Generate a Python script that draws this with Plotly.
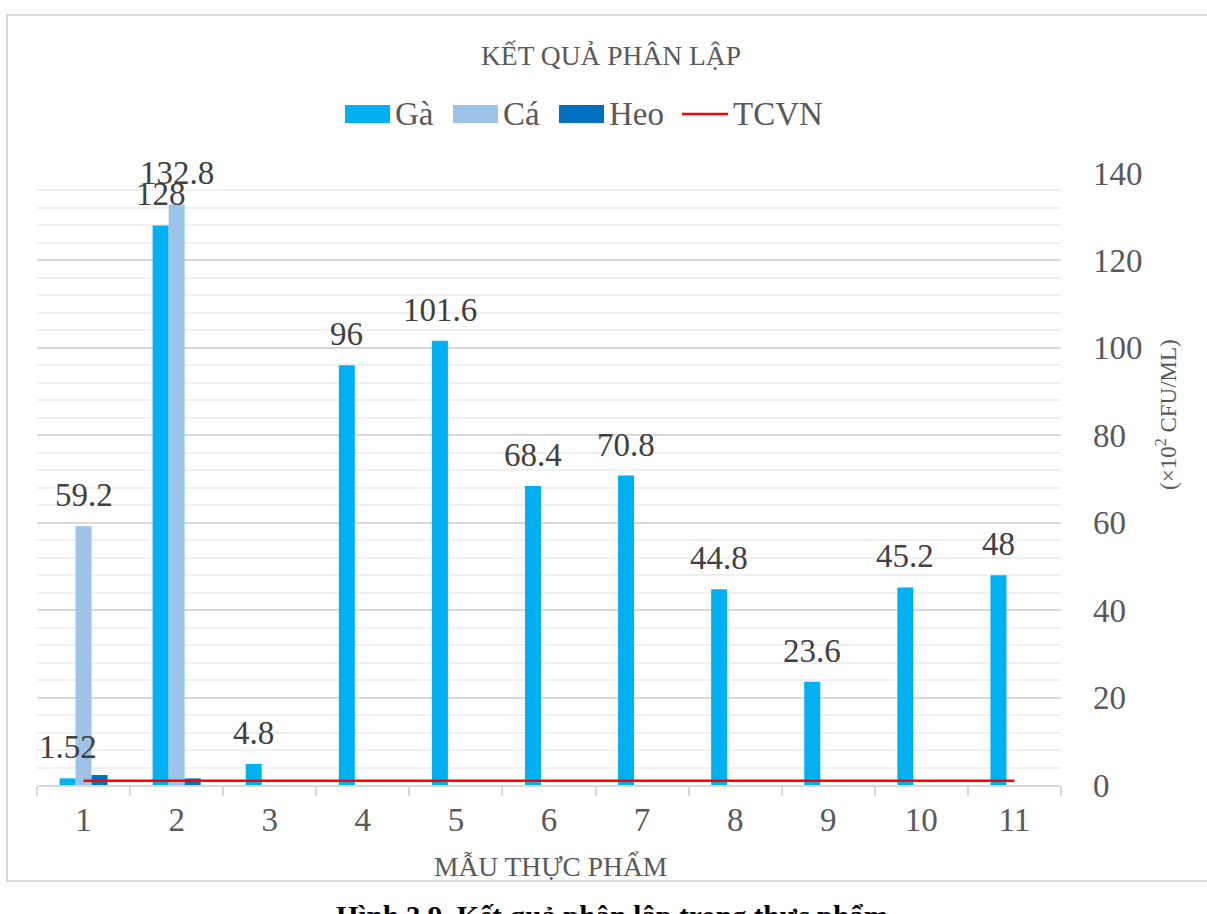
import plotly.graph_objects as go

# Sample numbers (Mẫu thực phẩm 1..11)
categories = ["1", "2", "3", "4", "5", "6", "7", "8", "9", "10", "11"]

# Counts in ×10² CFU/ml; None = not sampled
ga = [1.52, 128, 4.8, 96, 101.6, 68.4, 70.8, 44.8, 23.6, 45.2, 48]
ca = [59.2, 132.8, None, None, None, None, None, None, None, None, None]
heo = [2.3, 1.5, None, None, None, None, None, None, None, None, None]
tcvn = [1.0] * len(categories)

y_ticks = [0, 20, 40, 60, 80, 100, 120, 140]

# Figure geometry
W, H = 1207, 914
ML, MR, MT, MB = 37, 146, 173, 129
PW, PH = W - ML - MR, H - MT - MB
BARGAP = 0.484

C_GA, C_CA, C_HEO, C_TCVN = "#00B0F0", "#9DC3E6", "#0070C0", "#FF0000"
FONT = "Liberation Serif, Times New Roman, serif"
GREY = "#595959"


def px(x):
    return (x - ML) / PW


def py(y):
    return (H - MB - y) / PH


fig = go.Figure()
for name, vals, col in [("Gà", ga, C_GA), ("Cá", ca, C_CA), ("Heo", heo, C_HEO)]:
    fig.add_trace(go.Bar(x=categories, y=vals, name=name, marker_color=col,
                         marker_line_width=0, showlegend=False))
fig.add_trace(go.Scatter(x=categories, y=tcvn, name="TCVN", mode="lines",
                         line=dict(color=C_TCVN, width=2.5), showlegend=False))

# Value labels above Gà and Cá bars (x given as category index)
cat_w = PW / len(categories)
bar_w = (1 - BARGAP) * cat_w / 3
annotations = []
for vals, shift in [(ga, -bar_w), (ca, 0.0)]:
    for i, v in enumerate(vals):
        if v is None:
            continue
        annotations.append(dict(x=i, y=v, xref="x", yref="y", text=f"{v:g}",
                                showarrow=False, xanchor="center", yanchor="bottom",
                                xshift=shift, yshift=11,
                                font=dict(family=FONT, size=33, color="#404040")))

# Title, axis titles, caption
annotations.append(dict(x=px(611), y=py(55), xref="paper", yref="paper",
                        text="KẾT QUẢ PHÂN LẬP", showarrow=False,
                        xanchor="center", yanchor="middle",
                        font=dict(family=FONT, size=27.5, color=GREY)))
annotations.append(dict(x=px(550), y=py(866), xref="paper", yref="paper",
                        text="MẪU THỰC PHẨM", showarrow=False,
                        xanchor="center", yanchor="middle",
                        font=dict(family=FONT, size=27.5, color=GREY)))
annotations.append(dict(x=px(1166), y=py(415), xref="paper", yref="paper",
                        text="(×10<sup>2</sup> CFU/ML)", showarrow=False, textangle=-90,
                        xanchor="center", yanchor="middle",
                        font=dict(family=FONT, size=23, color=GREY)))
annotations.append(dict(x=px(612), y=py(898), xref="paper", yref="paper",
                        text="<b>Hình 3.9. Kết quả phân lập trong thực phẩm</b>",
                        showarrow=False, xanchor="center", yanchor="top",
                        font=dict(family=FONT, size=29, color="#000000")))

# Legend row
shapes = []
legend_y = 114
for name, col, x0 in [("Gà", C_GA, 345), ("Cá", C_CA, 453), ("Heo", C_HEO, 559)]:
    shapes.append(dict(type="rect", xref="paper", yref="paper",
                       x0=px(x0), x1=px(x0 + 45), y0=py(legend_y + 9), y1=py(legend_y - 9),
                       fillcolor=col, line_width=0))
    annotations.append(dict(x=px(x0 + 48), y=py(legend_y), xref="paper", yref="paper",
                            text=name, showarrow=False, xanchor="left", yanchor="middle",
                            font=dict(family=FONT, size=33, color=GREY)))
shapes.append(dict(type="line", xref="paper", yref="paper",
                   x0=px(682), x1=px(728), y0=py(legend_y), y1=py(legend_y),
                   line=dict(color=C_TCVN, width=2.5)))
annotations.append(dict(x=px(731), y=py(legend_y), xref="paper", yref="paper",
                        text="TCVN", showarrow=False, xanchor="left", yanchor="middle",
                        font=dict(family=FONT, size=33, color=GREY)))

# Chart frame
shapes.append(dict(type="rect", xref="paper", yref="paper",
                   x0=px(7), x1=px(1216), y0=py(881), y1=py(15),
                   line=dict(color="#d9d9d9", width=2), layer="below"))

fig.update_layout(
    width=W, height=H,
    margin=dict(l=ML, r=MR, t=MT, b=MB),
    paper_bgcolor="white", plot_bgcolor="white",
    barmode="group", bargap=BARGAP, bargroupgap=0,
    showlegend=False,
    annotations=annotations, shapes=shapes,
    font=dict(family=FONT, color=GREY),
)
fig.update_xaxes(type="category", range=[-0.5, len(categories) - 0.5],
                 showgrid=False, showline=True,
                 linecolor="#d9d9d9", linewidth=2,
                 ticks="outside", tickson="boundaries", ticklen=9,
                 tickcolor="#d9d9d9", tickwidth=2, ticklabelstandoff=4,
                 tickfont=dict(family=FONT, size=33, color=GREY))
fig.update_yaxes(side="right", range=[0, 140], tickvals=y_ticks,
                 showline=False, zeroline=False,
                 showgrid=True, gridcolor="#d9d9d9", gridwidth=1.5,
                 minor=dict(dtick=4, showgrid=True, gridcolor="#f0f0f0", gridwidth=1.5),
                 ticks="", ticklabelstandoff=31,
                 tickfont=dict(family=FONT, size=33, color=GREY))

fig.write_html("out.html")
